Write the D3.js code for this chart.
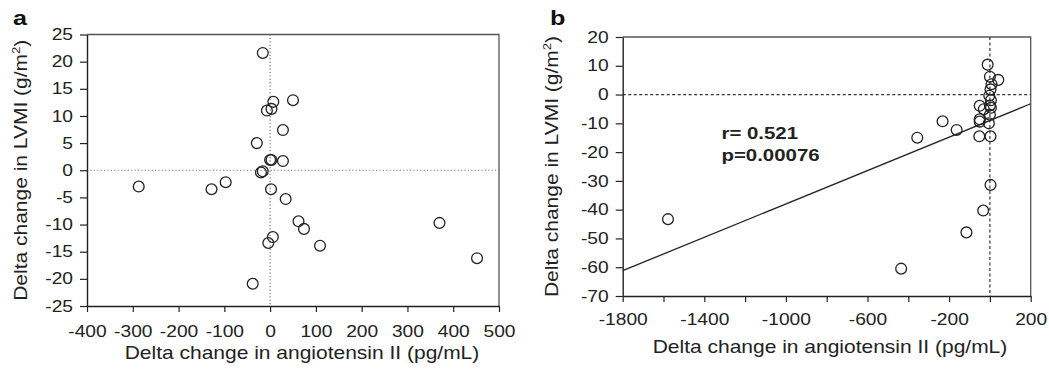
<!DOCTYPE html>
<html>
<head>
<meta charset="utf-8">
<script src="https://cdn.jsdelivr.net/npm/d3@7"></script>
<style>
  body { margin: 0; background: #fff; }
  svg { display: block; font-family: "Liberation Sans", Arial, Helvetica, sans-serif; }
</style>
</head>
<body>
<div id="chart"></div>
<script>
// panel a: delta angiotensin II vs delta LVMI
const aX = [-16, 7, 50, -7, 3, 28, -29, 0, 3, 28, -20, -16, -287, -128, -97, 2, 34, 62, 74, 6, -4, 109, -38, 370, 452];
const aY = [21.6, 12.6, 12.9, 11.0, 11.3, 7.4, 5.0, 1.9, 1.9, 1.7, -0.4, -0.2, -3.0, -3.5, -2.2, -3.5, -5.3, -9.4, -10.8, -12.3, -13.4, -13.9, -20.9, -9.7, -16.2];
const aXTicks = [-400, -300, -200, -100, 0, 100, 200, 300, 400, 500];
const aYTicks = [25, 20, 15, 10, 5, 0, -5, -10, -15, -20, -25];

// panel b
const bX = [-11, 0, 41, 8, 3, -3, 5, 0, -50, -30, 5, 0, -50, -50, -5, -52, 3, 3, -33, -115, -435, -356, -232, -163, -1578];
const bY = [10.4, 6.2, 5.1, 3.6, 1.8, -0.4, -2.0, -3.8, -3.9, -5.1, -4.6, -7.0, -8.6, -9.4, -10.0, -14.5, -14.5, -31.4, -40.3, -47.9, -60.5, -15.0, -9.3, -12.3, -43.3];
const bXTicks = [-1800, -1600, -1400, -1200, -1000, -800, -600, -400, -200, 0, 200];
const bXLabels = [-1800, -1400, -1000, -600, -200, 200];
const bYTicks = [20, 10, 0, -10, -20, -30, -40, -50, -60, -70];
const fitSlope = 0.029;
const fitIntercept = -9.0;
const statLines = ['r= 0.521', 'p=0.00076'];

const xTitle = 'Delta change in angiotensin II (pg/mL)';
const SX = 1.2; // the figure's type is wide

const svg = d3.select('#chart').append('svg')
  .attr('width', 1049)
  .attr('height', 371);

function stretchText(sel) {
  sel.attr('transform', `scale(${SX},1)`);
}

function yTitle(x, cy) {
  const t = svg.append('text')
    .attr('transform', `translate(${x},${cy}) rotate(-90) scale(${SX},1)`)
    .attr('text-anchor', 'middle')
    .style('font-size', '17.5px')
    .attr('fill', '#222');
  t.append('tspan').text('Delta change in LVMI (g/m');
  t.append('tspan').attr('dy', -7).style('font-size', '11px').text('2');
  t.append('tspan').attr('dy', 7).text(')');
}

function drawPanel(cfg) {
  const x = d3.scaleLinear().domain(cfg.xDomain).range([cfg.left, cfg.right]);
  const y = d3.scaleLinear().domain(cfg.yDomain).range([cfg.bottom, cfg.top]);

  // frame (top / right)
  svg.append('path')
    .attr('d', `M${cfg.left},${cfg.top}H${cfg.right}V${cfg.bottom}`)
    .attr('fill', 'none')
    .attr('stroke', '#555')
    .attr('stroke-width', 1.3);

  // zero reference lines
  svg.append('line')
    .attr('x1', x(0)).attr('x2', x(0))
    .attr('y1', cfg.top).attr('y2', cfg.bottom)
    .attr('stroke', cfg.refColor)
    .attr('stroke-width', 1.2)
    .attr('stroke-dasharray', cfg.refDash);
  svg.append('line')
    .attr('x1', cfg.left).attr('x2', cfg.right)
    .attr('y1', y(0)).attr('y2', y(0))
    .attr('stroke', cfg.refColor)
    .attr('stroke-width', 1.2)
    .attr('stroke-dasharray', cfg.refDash);

  const xAxis = d3.axisBottom(x)
    .tickValues(cfg.xTicks)
    .tickFormat(cfg.xFormat)
    .tickSizeInner(6).tickSizeOuter(0)
    .tickPadding(cfg.xPad);
  const yAxis = d3.axisLeft(y)
    .tickValues(cfg.yTicks)
    .tickFormat(d => d)
    .tickSizeInner(7).tickSizeOuter(0)
    .tickPadding(7);

  const gx = svg.append('g')
    .attr('transform', `translate(0,${cfg.bottom})`)
    .call(xAxis);
  const gy = svg.append('g')
    .attr('transform', `translate(${cfg.left},0)`)
    .call(yAxis);

  [gx, gy].forEach(g => {
    g.select('.domain').attr('stroke', '#222').attr('stroke-width', 1.4);
    g.selectAll('.tick line').attr('stroke', '#222').attr('stroke-width', 1.2);
    g.selectAll('.tick text')
      .style('font-size', '16px')
      .style('font-family', '"Liberation Sans", Arial, sans-serif')
      .attr('fill', '#222');
  });
  gx.selectAll('.tick text').call(stretchText);
  gy.selectAll('.tick text').attr('x', -14 / SX).call(stretchText);

  if (cfg.fit) {
    const xd = cfg.xDomain;
    svg.append('line')
      .attr('x1', x(xd[0])).attr('y1', y(cfg.fit.slope * xd[0] + cfg.fit.intercept))
      .attr('x2', x(xd[1])).attr('y2', y(cfg.fit.slope * xd[1] + cfg.fit.intercept))
      .attr('stroke', '#222')
      .attr('stroke-width', 1.3);
  }

  svg.append('g')
    .selectAll('circle')
    .data(cfg.xs.map((v, i) => [v, cfg.ys[i]]))
    .enter()
    .append('circle')
    .attr('cx', d => x(d[0]))
    .attr('cy', d => y(d[1]))
    .attr('r', 5.4)
    .attr('fill', 'none')
    .attr('stroke', '#222')
    .attr('stroke-width', 1.3);

  // titles
  svg.append('text')
    .attr('transform', `translate(${cfg.xTitleX},${cfg.xTitleY}) scale(${SX},1)`)
    .attr('text-anchor', 'middle')
    .style('font-size', '17.5px')
    .attr('fill', '#222')
    .text(xTitle);
  yTitle(cfg.yTitleX, (cfg.top + cfg.bottom) / 2);

  svg.append('text')
    .attr('transform', `translate(${cfg.letterX},25) scale(${SX},1)`)
    .style('font-size', '21px')
    .style('font-weight', 'bold')
    .attr('fill', '#111')
    .text(cfg.letter);

  return { x, y };
}

drawPanel({
  letter: 'a', letterX: 13,
  xs: aX, ys: aY,
  xDomain: [-400, 500], yDomain: [-25, 25],
  left: 87, right: 499, top: 34.5, bottom: 306,
  xTicks: aXTicks, yTicks: aYTicks,
  xFormat: d => d, xPad: 14,
  refColor: '#777', refDash: '1.2,2.2',
  xTitleX: 302, xTitleY: 358.5, yTitleX: 27
});

const b = drawPanel({
  letter: 'b', letterX: 550,
  xs: bX, ys: bY,
  xDomain: [-1800, 200], yDomain: [-70, 20],
  left: 622.7, right: 1030.7, top: 37, bottom: 296,
  xTicks: bXTicks, yTicks: bYTicks,
  xFormat: d => (bXLabels.includes(d) ? d : ''), xPad: 11.5,
  refColor: '#333', refDash: '3,2.5',
  xTitleX: 830, xTitleY: 353, yTitleX: 558,
  fit: { slope: fitSlope, intercept: fitIntercept }
});

svg.append('g')
  .selectAll('text')
  .data(statLines)
  .enter()
  .append('text')
  .attr('transform', (d, i) => `translate(721.5,${139 + i * 21.7}) scale(${SX},1)`)
  .style('font-size', '17px')
  .style('font-weight', 'bold')
  .attr('fill', '#222')
  .text(d => d);
</script>
</body>
</html>
